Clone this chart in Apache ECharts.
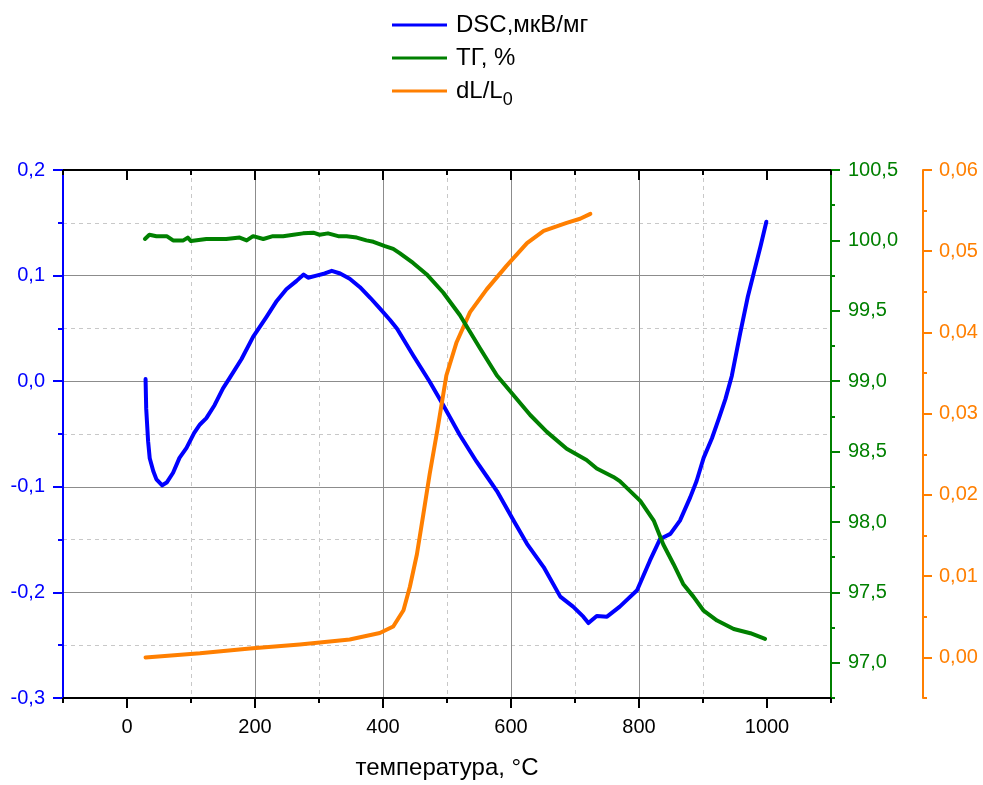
<!DOCTYPE html>
<html>
<head>
<meta charset="utf-8">
<script src="https://cdn.jsdelivr.net/npm/echarts@6/dist/echarts.min.js"></script>
<style>
html,body{margin:0;padding:0;background:#fff;}
#chart{width:983px;height:785px;}
</style>
</head>
<body>
<div id="chart"></div>
<script>
// ---- data ----
const dscT = [29, 30, 33, 35.5, 41, 46, 55, 62, 72, 82, 93, 105, 114, 124, 137, 150, 160, 179, 197, 218, 234, 249, 265, 276, 283, 296, 309, 320, 333, 348, 364, 380, 395, 411, 422, 447, 473, 494, 520, 546, 562, 578, 604, 625, 651, 677, 697, 713, 721, 734, 750, 770, 797, 817, 833, 849, 864, 880, 890, 901, 914, 925, 935, 945, 958, 970, 980, 990, 999];
const dscV = [0.002, -0.026, -0.057, -0.073, -0.085, -0.093, -0.0986, -0.096, -0.0867, -0.0726, -0.0632, -0.049, -0.041, -0.035, -0.0225, -0.0068, 0.0026, 0.021, 0.042, 0.061, 0.076, 0.087, 0.095, 0.101, 0.098, 0.100, 0.102, 0.1045, 0.102, 0.097, 0.089, 0.079, 0.069, 0.058, 0.0496, 0.0245, -0.0005, -0.0225, -0.051, -0.076, -0.090, -0.104, -0.132, -0.154, -0.176, -0.204, -0.2135, -0.223, -0.229, -0.2223, -0.223, -0.2135, -0.198, -0.170, -0.1494, -0.1446, -0.132, -0.110, -0.0945, -0.0726, -0.054, -0.035, -0.017, 0.005, 0.045, 0.080, 0.104, 0.128, 0.151];

const tgT = [28, 35, 46, 62, 72, 88, 95, 100, 124, 155, 176, 187, 197, 213, 228, 244, 260, 275, 291, 301, 314, 330, 343, 359, 374, 385, 403, 416, 426, 447, 468, 494, 520, 552, 578, 604, 630, 656, 687, 718, 734, 760, 770, 802, 823, 838, 854, 869, 885, 901, 922, 948, 974, 997];
const tgV = [100.01, 100.04, 100.03, 100.03, 100.0, 100.0, 100.02, 99.995, 100.01, 100.01, 100.02, 100.0, 100.03, 100.01, 100.03, 100.03, 100.04, 100.05, 100.055, 100.04, 100.05, 100.03, 100.03, 100.02, 100.0, 99.99, 99.96, 99.94, 99.91, 99.84, 99.76, 99.63, 99.47, 99.23, 99.04, 98.90, 98.76, 98.64, 98.52, 98.44, 98.38, 98.32, 98.29, 98.15, 98.01, 97.84, 97.70, 97.56, 97.47, 97.37, 97.30, 97.24, 97.21, 97.17];

const dlT = [29, 114, 192, 270, 348, 395, 416, 432, 442, 453, 463, 473, 485, 499, 515, 536, 562, 593, 625, 651, 687, 708, 724];
const dlV = [0.0, 0.0005, 0.0011, 0.0016, 0.0022, 0.0030, 0.0038, 0.0058, 0.0087, 0.0127, 0.0176, 0.0226, 0.0280, 0.0347, 0.0388, 0.0425, 0.0453, 0.0482, 0.0510, 0.0525, 0.0535, 0.0540, 0.0546];

const xMajorTicks = [0, 200, 400, 600, 800, 1000];
const xMinorTicks = [-100, 100, 300, 500, 700, 900, 1100];
const tgMajorTicks = [97.0, 97.5, 98.0, 98.5, 99.0, 99.5, 100.0, 100.5];
const tgMinorTicks = [96.75, 97.25, 97.75, 98.25, 98.75, 99.25, 99.75, 100.25];
const dlMajorTicks = [0.00, 0.01, 0.02, 0.03, 0.04, 0.05, 0.06];
const dlMinorTicks = [-0.005, 0.005, 0.015, 0.025, 0.035, 0.045, 0.055];

const names = ['DSC,мкВ/мг', 'ТГ, %', 'dL/L0'];

// ---- styling ----
const BLUE = '#0000ff', GREEN = '#008000', ORANGE = '#ff7f00';
const FONT = 'Liberation Sans, Arial, sans-serif';
const zip = (a, b) => a.map((v, i) => [v, b[i]]);
const comma = d => v => { if (Math.abs(v) < 1e-9) v = 0; return v.toFixed(d).replace('.', ','); };

const majorGrid = { show: true, lineStyle: { color: '#8c8c8c', width: 1, type: 'solid' } };
const minorGrid = { show: true, showMinLine: false, showMaxLine: false, lineStyle: { color: '#c8c8c8', width: 1, type: [4, 4] } };

const chart = echarts.init(document.getElementById('chart'));
chart.setOption({
  backgroundColor: '#fff',
  animation: false,
  textStyle: { fontFamily: FONT },
  legend: {
    orient: 'vertical',
    left: 392,
    top: 13,
    padding: 0,
    itemGap: 9,
    itemWidth: 55,
    itemHeight: 3,
    icon: 'rect',
    data: names,
    formatter: n => n === 'dL/L0' ? 'dL/L{sub|0}' : n,
    textStyle: {
      fontSize: 24, color: '#000', fontFamily: FONT, padding: [0, 0, 0, 4],
      rich: { sub: { fontSize: 18, fontFamily: FONT, color: '#000', verticalAlign: 'bottom', padding: [19, 0, 0, 0] } }
    }
  },
  grid: { left: 63, right: 152, top: 170, bottom: 83, containLabel: false },
  xAxis: [
    {
      type: 'value', position: 'bottom', min: -100, max: 1100,
      name: 'температура, °C', nameLocation: 'middle', nameGap: 58,
      nameTextStyle: { fontSize: 24, color: '#000', fontFamily: FONT },
      axisLine: { show: true, onZero: false, lineStyle: { color: '#000', width: 2 } },
      axisTick: { show: true, inside: false, length: 10, customValues: xMajorTicks, lineStyle: { color: '#000', width: 2 } },
      axisLabel: { show: true, customValues: xMajorTicks, formatter: v => String(Math.round(v)), margin: 19, fontSize: 20, color: '#000', fontFamily: FONT },
      splitLine: Object.assign({ showMinLine: false, showMaxLine: false }, majorGrid)
    },
    {
      type: 'value', position: 'bottom', min: -100, max: 1100,
      axisLine: { show: false, onZero: false },
      axisTick: { show: true, inside: false, length: 5, customValues: xMinorTicks, lineStyle: { color: '#000', width: 2 } },
      axisLabel: { show: false },
      splitLine: minorGrid
    },
    {
      type: 'value', position: 'top', min: -100, max: 1100,
      axisLine: { show: true, onZero: false, lineStyle: { color: '#000', width: 2 } },
      axisTick: { show: true, inside: true, length: 10, customValues: xMajorTicks, lineStyle: { color: '#000', width: 2 } },
      axisLabel: { show: false },
      splitLine: { show: false }
    },
    {
      type: 'value', position: 'top', min: -100, max: 1100,
      axisLine: { show: false, onZero: false },
      axisTick: { show: true, inside: true, length: 5, customValues: xMinorTicks, lineStyle: { color: '#000', width: 2 } },
      axisLabel: { show: false },
      splitLine: { show: false }
    }
  ],
  yAxis: [
    {
      type: 'value', position: 'left', min: -0.3, max: 0.2, interval: 0.1,
      axisLine: { show: true, onZero: false, lineStyle: { color: BLUE, width: 2 } },
      axisTick: { show: true, inside: false, length: 10, lineStyle: { color: BLUE, width: 2 } },
      minorTick: { show: true, splitNumber: 2, length: 5, lineStyle: { color: BLUE, width: 2 } },
      axisLabel: { formatter: comma(1), color: BLUE, fontSize: 20, margin: 18, fontFamily: FONT },
      splitLine: Object.assign({ showMinLine: false, showMaxLine: false }, majorGrid),
      minorSplitLine: { show: true, lineStyle: { color: '#c8c8c8', width: 1, type: [4, 4] } }
    },
    {
      type: 'value', position: 'right', offset: 0, min: 96.75, max: 100.5,
      axisLine: { show: true, onZero: false, lineStyle: { color: GREEN, width: 2 } },
      axisTick: { show: true, inside: false, length: 9, customValues: tgMajorTicks, lineStyle: { color: GREEN, width: 2 } },
      axisLabel: { customValues: tgMajorTicks, formatter: comma(1), color: GREEN, fontSize: 20, margin: 17, fontFamily: FONT },
      splitLine: { show: false }
    },
    {
      type: 'value', position: 'right', offset: 0, min: 96.75, max: 100.5,
      axisLine: { show: false, onZero: false },
      axisTick: { show: true, inside: false, length: 4, customValues: tgMinorTicks, lineStyle: { color: GREEN, width: 2 } },
      axisLabel: { show: false },
      splitLine: { show: false }
    },
    {
      type: 'value', position: 'right', offset: 92, min: -0.005, max: 0.06,
      axisLine: { show: true, onZero: false, lineStyle: { color: ORANGE, width: 2 } },
      axisTick: { show: true, inside: false, length: 9, customValues: dlMajorTicks, lineStyle: { color: ORANGE, width: 2 } },
      axisLabel: { customValues: dlMajorTicks, formatter: comma(2), color: ORANGE, fontSize: 20, margin: 16, fontFamily: FONT },
      splitLine: { show: false }
    },
    {
      type: 'value', position: 'right', offset: 92, min: -0.005, max: 0.06,
      axisLine: { show: false, onZero: false },
      axisTick: { show: true, inside: false, length: 4, customValues: dlMinorTicks, lineStyle: { color: ORANGE, width: 2 } },
      axisLabel: { show: false },
      splitLine: { show: false }
    }
  ],
  series: [
    {
      name: names[0], type: 'line', xAxisIndex: 0, yAxisIndex: 0, symbol: 'none', smooth: false,
      color: BLUE, lineStyle: { color: BLUE, width: 4, join: 'round', cap: 'round' }, data: zip(dscT, dscV), z: 3
    },
    {
      name: names[2], type: 'line', xAxisIndex: 0, yAxisIndex: 3, symbol: 'none', smooth: false,
      color: ORANGE, lineStyle: { color: ORANGE, width: 4, join: 'round', cap: 'round' }, data: zip(dlT, dlV), z: 4
    },
    {
      name: names[1], type: 'line', xAxisIndex: 0, yAxisIndex: 1, symbol: 'none', smooth: false,
      color: GREEN, lineStyle: { color: GREEN, width: 4, join: 'round', cap: 'round' }, data: zip(tgT, tgV), z: 5
    }
  ]
});
</script>
</body>
</html>
